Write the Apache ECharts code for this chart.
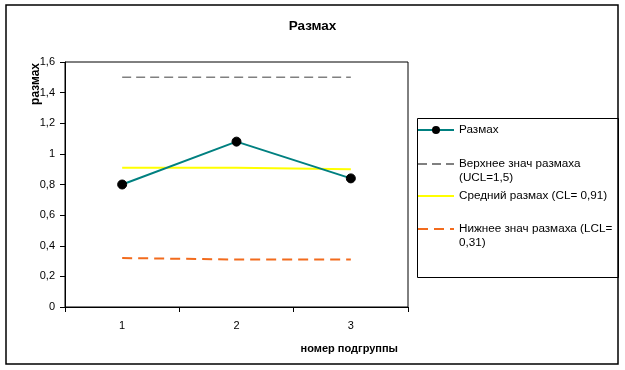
<!DOCTYPE html>
<html>
<head>
<meta charset="utf-8">
<script src="https://cdn.jsdelivr.net/npm/echarts@6/dist/echarts.min.js"></script>
<style>html,body{margin:0;padding:0;background:#fff}#c{width:625px;height:370px}</style>
</head>
<body>
<div id="c"></div>
<script>
var categories = ['1', '2', '3'];
var rangeValues = [0.80, 1.08, 0.84];
var uclValues = [1.5, 1.5, 1.5];
var clValues = [0.91, 0.91, 0.90];
var lclValues = [0.32, 0.31, 0.31];
var seriesNames = ['Размах', 'Верхнее знач размаха (UCL=1,5)', 'Средний размах (CL= 0,91)', 'Нижнее знач размаха (LCL= 0,31)'];
var legendLabels = ['Размах', ' \nВерхнее знач размаха\n(UCL=1,5)', 'Средний размах (CL= 0,91)', ' \nНижнее знач размаха (LCL=\n0,31)'];
var titleText = 'Размах';
var yName = 'размах';
var xName = 'номер подгруппы';

var FONT = 'Liberation Sans, Arial, sans-serif';
var chart = echarts.init(document.getElementById('c'), null, {renderer: 'canvas'});

function mkLegend(idx, top, hideSymbol) {
  var item = {name: seriesNames[idx]};
  if (hideSymbol) item.itemStyle = {opacity: 0};
  return {
    data: [item],
    orient: 'vertical',
    left: 417,
    top: top,
    itemWidth: 36,
    itemHeight: 10,
    padding: 0,
    selectedMode: false,
    formatter: function () { return legendLabels[idx]; },
    textStyle: {fontFamily: FONT, fontSize: 11.7, color: '#000', lineHeight: 14}
  };
}

var option = {
  animation: false,
  backgroundColor: '#fff',
  title: {
    text: titleText, left: 'center', top: 14,
    textStyle: {fontFamily: FONT, fontSize: 13.5, fontWeight: 'bold', color: '#000'}
  },
  grid: {left: 65, top: 62, right: 217, bottom: 63, show: true, borderColor: '#000', borderWidth: 1, backgroundColor: '#fff'},
  legend: [
    mkLegend(0, 123, false),
    mkLegend(1, 143, true),
    mkLegend(2, 189, true),
    mkLegend(3, 208, true)
  ],
  xAxis: {
    type: 'category', data: categories, boundaryGap: true,
    name: xName, nameLocation: 'end', nameGap: -10,
    nameTextStyle: {fontFamily: FONT, fontSize: 11, fontWeight: 'bold', color: '#000', align: 'right', verticalAlign: 'top', padding: [36, 0, 0, 0]},
    axisLine: {lineStyle: {color: '#000', width: 1}},
    axisTick: {show: true, length: 5, lineStyle: {color: '#000'}},
    axisLabel: {fontFamily: FONT, fontSize: 11, color: '#000', margin: 13},
    splitLine: {show: false}
  },
  yAxis: {
    type: 'value', min: 0, max: 1.6, interval: 0.2,
    axisLine: {show: true, lineStyle: {color: '#000', width: 1}},
    axisTick: {show: true, length: 5, lineStyle: {color: '#000'}},
    axisLabel: {fontFamily: FONT, fontSize: 11, color: '#000', margin: 10,
      formatter: function (v) { return String(+v.toFixed(1)).replace('.', ','); }},
    splitLine: {show: false}
  },
  series: [
    {name: seriesNames[1], type: 'line', data: uclValues, symbol: 'none', z: 2,
      lineStyle: {color: '#808080', width: 1.5, type: [9, 5]}, itemStyle: {color: '#808080'}},
    {name: seriesNames[2], type: 'line', data: clValues, symbol: 'none', z: 2,
      lineStyle: {color: '#ffff00', width: 2}, itemStyle: {color: '#ffff00'}},
    {name: seriesNames[3], type: 'line', data: lclValues, symbol: 'none', z: 2,
      lineStyle: {color: '#f26b1d', width: 2, type: [10, 6]}, itemStyle: {color: '#f26b1d'}},
    {name: seriesNames[0], type: 'line', data: rangeValues, symbol: 'circle', symbolSize: 9, z: 3,
      lineStyle: {color: '#008080', width: 2}, itemStyle: {color: '#000', borderColor: '#000'}}
  ],
  graphic: [
    {type: 'rect', shape: {x: 6, y: 5, width: 612, height: 359}, style: {fill: null, stroke: '#000', lineWidth: 1.5}, silent: true, z: -1},
    {type: 'rect', shape: {x: 417.5, y: 118.5, width: 201, height: 159}, style: {fill: null, stroke: '#000', lineWidth: 1}, silent: true, z: -1},
    {type: 'text', left: 30, top: 63, rotation: Math.PI / 2,
      style: {text: yName, fontFamily: FONT, fontSize: 12, fontWeight: 'bold', fill: '#000'}, silent: true}
  ]
};
chart.setOption(option);
</script>
</body>
</html>
